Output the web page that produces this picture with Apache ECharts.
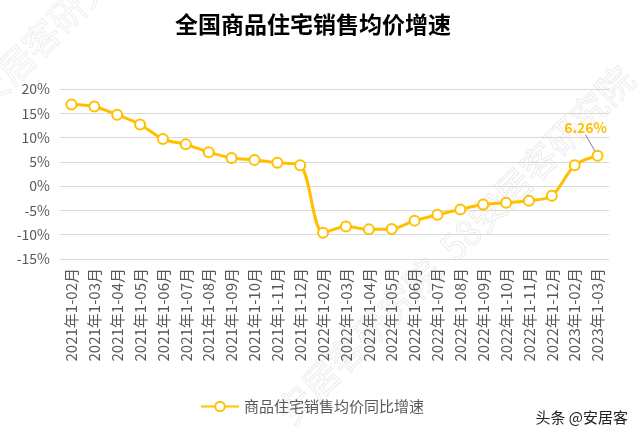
<html>
<head>
    <meta charset="utf-8">
    <title>全国商品住宅销售均价增速</title>
    <style>
        html, body, #main { margin: 0; padding: 0; width: 640px; height: 438px; background: #fff; }
    </style>
    <script src="https://cdn.jsdelivr.net/npm/echarts@6/dist/echarts.min.js"></script>
</head>
<body>
    <div id="main"></div>
    <script>
        // 数据
        var categories = [
            '2021年1-02月', '2021年1-03月', '2021年1-04月', '2021年1-05月', '2021年1-06月', '2021年1-07月',
            '2021年1-08月', '2021年1-09月', '2021年1-10月', '2021年1-11月', '2021年1-12月',
            '2022年1-02月', '2022年1-03月', '2022年1-04月', '2022年1-05月', '2022年1-06月', '2022年1-07月',
            '2022年1-08月', '2022年1-09月', '2022年1-10月', '2022年1-11月', '2022年1-12月',
            '2023年1-02月', '2023年1-03月'
        ];
        var growth = [
            16.8, 16.4, 14.7, 12.7, 9.7, 8.6, 7.0, 5.8, 5.4, 4.8, 4.3,
            -9.6, -8.3, -8.9, -8.8, -7.1, -5.9, -4.8, -3.8, -3.4, -3.0, -2.0,
            4.3, 6.26
        ];
        var seriesName = '商品住宅销售均价同比增速';
        var yTicks = { min: -15, max: 20, step: 5 };

        var gold = '#FFC000';
        var lastIdx = growth.length - 1;

        var chart = echarts.init(document.getElementById('main'));
        chart.setOption({
            backgroundColor: '#fff',
            animation: false,
            title: {
                text: '全国商品住宅销售均价增速',
                left: 170,
                top: 8,
                textStyle: { fontFamily: 'Noto Sans CJK SC', fontSize: 23, fontWeight: 'bold', color: '#000' }
            },
            grid: { left: 60, top: 89, width: 549, height: 170 },
            legend: {
                bottom: 19,
                left: 195,
                itemWidth: 38,
                itemHeight: 12,
                textStyle: { fontFamily: 'Noto Sans CJK SC', fontSize: 15, color: '#595959' },
                data: [seriesName]
            },
            xAxis: {
                type: 'category',
                data: categories,
                boundaryGap: true,
                axisLine: { show: false },
                axisTick: { show: false },
                axisLabel: {
                    interval: 0,
                    rotate: 90,
                    margin: 9,
                    fontFamily: 'Noto Sans CJK SC',
                    fontSize: 15,
                    color: '#595959'
                }
            },
            yAxis: {
                type: 'value',
                min: yTicks.min,
                max: yTicks.max,
                interval: yTicks.step,
                axisLine: { show: false },
                axisTick: { show: false },
                splitLine: { lineStyle: { color: '#d9d9d9', width: 1 } },
                axisLabel: {
                    margin: 10,
                    fontFamily: 'Noto Sans CJK SC',
                    fontSize: 14,
                    color: '#595959',
                    formatter: '{value}%'
                }
            },
            series: [{
                name: seriesName,
                type: 'line',
                data: growth.map(function (v, i) {
                    if (i !== lastIdx) return v;
                    return {
                        value: v,
                        label: {
                            show: true,
                            position: 'top',
                            formatter: function (p) { return p.value.toFixed(2) + '%'; },
                            color: gold,
                            fontFamily: 'Noto Sans CJK SC',
                            fontSize: 14,
                            fontWeight: 'bold'
                        },
                        labelLine: { show: true, lineStyle: { color: '#7f7f7f', width: 1 } }
                    };
                }),
                labelLayout: function (p) {
                    if (p.dataIndex === lastIdx) return { dx: -12, dy: -10 };
                },
                smooth: 0.3,
                symbol: 'emptyCircle',
                symbolSize: 10,
                color: gold,
                lineStyle: { color: gold, width: 3 },
                itemStyle: { color: gold, borderWidth: 3 }
            }],
            graphic: [
                {
                    type: 'text', x: 455, y: 245, rotation: Math.PI / 4, silent: true, z: -1,
                    style: {
                        text: '安居客研究院  58安居客研究院', fontSize: 36, fontFamily: 'Noto Sans CJK SC',
                        fill: 'transparent', stroke: '#ececec', lineWidth: 1, align: 'center', verticalAlign: 'middle'
                    }
                },
                {
                    type: 'text', x: 40, y: 40, rotation: Math.PI / 4, silent: true, z: -1,
                    style: {
                        text: '58安居客研究院', fontSize: 36, fontFamily: 'Noto Sans CJK SC',
                        fill: 'transparent', stroke: '#efefef', lineWidth: 1, align: 'center', verticalAlign: 'middle'
                    }
                },
                {
                    type: 'text', right: 12, top: 410,
                    style: { text: '头条 @安居客', fontSize: 15, fontFamily: 'Noto Sans CJK SC', fill: '#222' }
                }
            ]
        });
    </script>
</body>
</html>
